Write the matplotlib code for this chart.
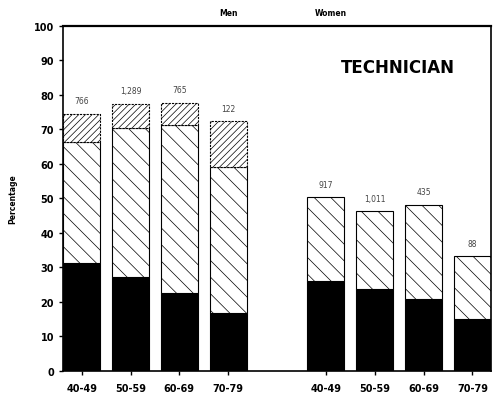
import numpy as np
import matplotlib
matplotlib.use('Agg')
import matplotlib.pyplot as plt

plt.rcParams['hatch.linewidth'] = 0.5
plt.rcParams['hatch.color'] = '#666666'

ages = ['40-49', '50-59', '60-69', '70-79']
# percentages (cumulative tops)
men_black = [31.2, 27.3, 22.6, 16.9]
men_mid_top = [66.3, 70.3, 71.3, 59.0]
men_top = [74.5, 77.4, 77.8, 72.4]
women_black = [26.0, 23.6, 20.9, 15.1]
women_top = [50.3, 46.2, 48.2, 33.2]
men_n = ['766', '1,289', '765', '122']
women_n = ['917', '1,011', '435', '88']

men_x = np.arange(4)
women_x = np.arange(4) + 5
w = 0.76

fig = plt.figure(figsize=(4.93, 4.02), dpi=100)
ax = fig.add_axes([0.128, 0.075, 0.868, 0.858])

men_black = np.array(men_black)
men_mid_top = np.array(men_mid_top)
men_top = np.array(men_top)
women_black = np.array(women_black)
women_top = np.array(women_top)

ax.bar(men_x, men_black, w, color='black', edgecolor='black', lw=0.8)
ax.bar(men_x, men_mid_top - men_black, w, bottom=men_black, color='white',
       edgecolor='black', hatch='\\\\', lw=0.8)
ax.bar(men_x, men_top - men_mid_top, w, bottom=men_mid_top, color='white',
       edgecolor='black', hatch='/////', lw=0.8, linestyle=(0, (2, 1)))

ax.bar(women_x, women_black, w, color='black', edgecolor='black', lw=0.8)
ax.bar(women_x, women_top - women_black, w, bottom=women_black, color='white',
       edgecolor='black', hatch='\\\\', lw=0.8)

for x, top, n in zip(men_x, men_top, men_n):
    ax.text(x, top + 2.5, n, ha='center', va='bottom', fontsize=5.5, color='#444444')
for x, top, n in zip(women_x, women_top, women_n):
    ax.text(x, top + 2.5, n, ha='center', va='bottom', fontsize=5.5, color='#444444')

ax.set_xlim(-0.38, 8.38)
ax.set_ylim(0, 100)
ax.set_yticks(range(0, 101, 10))
ax.set_xticks(list(men_x) + list(women_x))
ax.set_xticklabels(ages + ages)
ax.tick_params(axis='both', labelsize=7, width=1, length=3)
for lab in ax.get_xticklabels() + ax.get_yticklabels():
    lab.set_fontweight('bold')
ax.tick_params(axis='x', pad=6)
for s in ax.spines.values():
    s.set_linewidth(1.2)
ax.spines['top'].set_linewidth(1.6)

ax.set_ylabel('Percentage', fontsize=5.5, fontweight='bold', labelpad=12)
ax.text(5.3, 88, 'TECHNICIAN', fontsize=12, fontweight='bold', va='center')
ax.text(3.0, 102.5, 'Men', fontsize=5.5, fontweight='bold', ha='center', va='bottom')
ax.text(5.1, 102.5, 'Women', fontsize=5.5, fontweight='bold', ha='center', va='bottom')

fig.savefig('out.png', dpi=100)
